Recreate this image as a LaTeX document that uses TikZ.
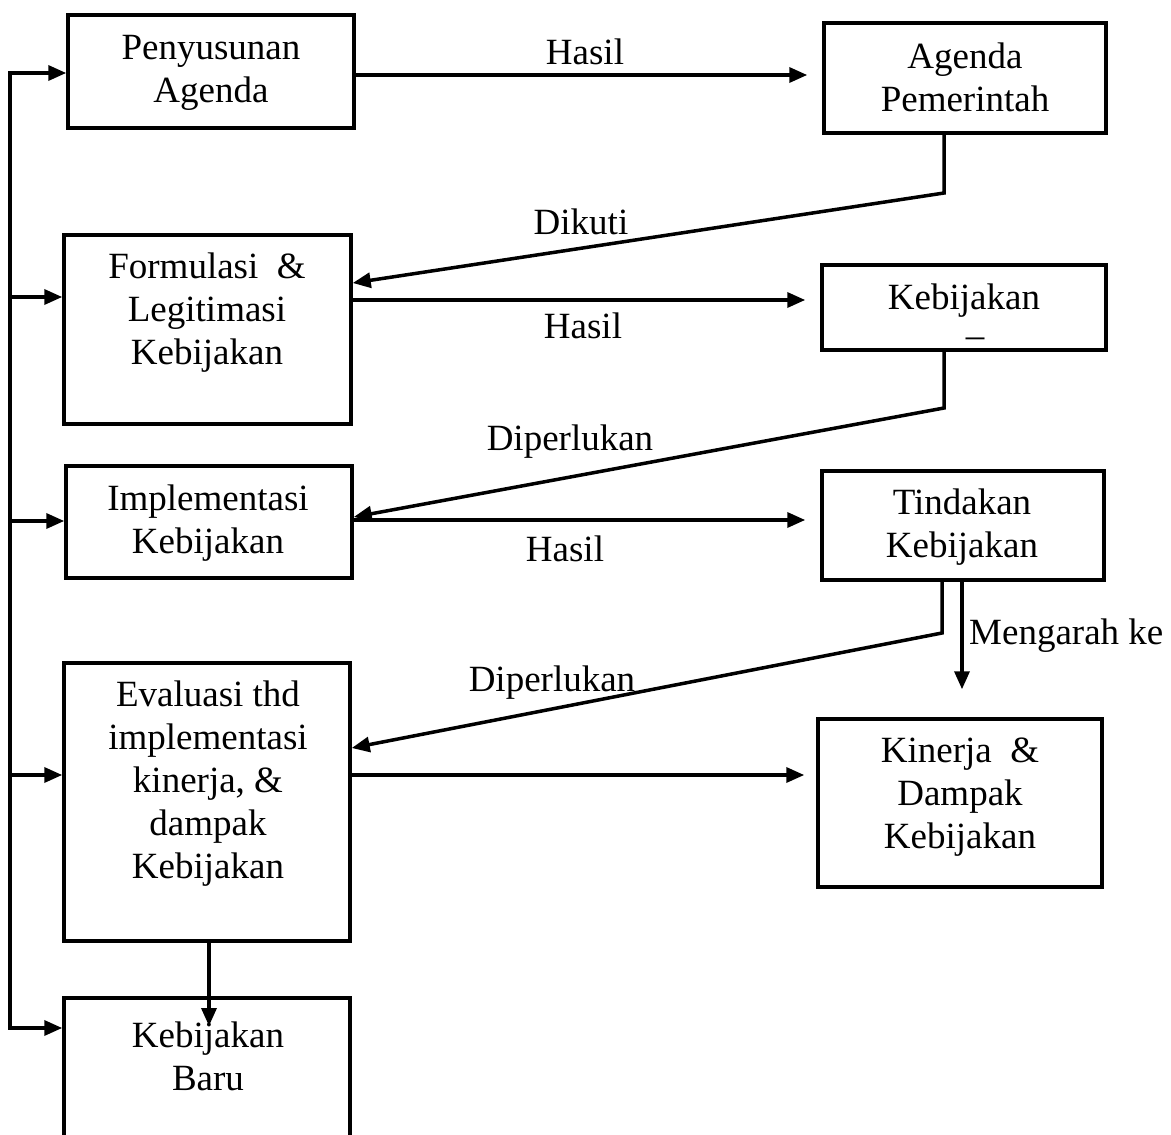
\documentclass[tikz,border=0pt]{standalone}
\usepackage{fontspec}
\setmainfont{Liberation Serif}
\usetikzlibrary{arrows.meta}
\begin{document}
\begin{tikzpicture}[x=1pt,y=-1pt,
  box/.style={draw, line width=3.5pt, inner sep=0pt},
  txt/.style={align=center, font=\fontsize{37}{43}\selectfont, inner sep=0pt},
  lbl/.style={font=\fontsize{37}{43}\selectfont, inner sep=0pt},
  ln/.style={line width=3.5pt},
  arr/.style={line width=3.5pt, -{Triangle[length=18pt,width=15pt]}}]
\useasboundingbox (0,0) rectangle (1171,1135);
% boxes
\node[box, minimum width=286pt, minimum height=113pt] (p) at (211,71.5) {};
\node[box, minimum width=282pt, minimum height=110pt] (ap) at (965,78) {};
\node[box, minimum width=287pt, minimum height=189pt] (f) at (207.5,329.5) {};
\node[box, minimum width=284pt, minimum height=85pt] (k) at (964,307.5) {};
\node[box, minimum width=286pt, minimum height=112pt] (i) at (209,522) {};
\node[box, minimum width=282pt, minimum height=109pt] (t) at (963,525.5) {};
\node[box, minimum width=286pt, minimum height=278pt] (e) at (207,802) {};
\node[box, minimum width=284pt, minimum height=168pt] (kd) at (960,803) {};
\node[box, minimum width=286pt, minimum height=160pt] (b) at (207,1078) {};
% texts
\node[txt] (pt) at (211,73) {Penyusunan\\Agenda};
\node[txt] (apt) at (965,77) {Agenda\\Pemerintah};
\node[txt] (ft) at (207,313) {Formulasi~ \&\\Legitimasi\\Kebijakan};
\node[txt] (kt) at (964,301) {Kebijakan};
\node[txt] (kx) at (975,343) {–};
\node[txt] (it) at (208,523) {Implementasi\\Kebijakan};
\node[txt] (tt) at (962,527) {Tindakan\\Kebijakan};
\node[txt] (et) at (208,784) {Evaluasi thd\\implementasi\\kinerja, \&\\dampak\\Kebijakan};
\node[txt] (kdt) at (960,797) {Kinerja~ \&\\Dampak\\Kebijakan};
\node[txt] (bt) at (208,1056) {Kebijakan\\Baru};
% labels
\node[lbl] (l1) at (585,52) {Hasil};
\node[lbl] (l2) at (581,222) {Dikuti};
\node[lbl] (l3) at (583,326) {Hasil};
\node[lbl] (l4) at (570,442) {Diperlukan};
\node[lbl] (l5) at (565,549) {Hasil};
\node[lbl] (l6) at (552,683) {Diperlukan};
\node[lbl, anchor=west] (l7) at (969,636) {Mengarah ke};
% horizontal connectors
\draw[arr, shorten >=15pt] (p.east |- 0,75) -- (ap.west |- 0,75);
\draw[arr, shorten >=15pt] (f.east |- 0,300) -- (k.west |- 0,300);
\draw[arr, shorten >=15pt] (i.east |- 0,520) -- (t.west |- 0,520);
\draw[arr, shorten >=12pt] (e.east |- 0,775) -- (kd.west |- 0,775);
% feedback connectors
\draw[arr, line join=miter] (ap.south -| 944,0) -- (944,193) -- (f.east |- 0,283);
\draw[arr, line join=miter] (k.south -| 944,0) -- (944,408) -- (i.east |- 0,517);
\draw[arr, line join=miter] (t.south -| 942,0) -- (942,633) -- (e.east |- 0,748);
\draw[arr, shorten >=28pt] (t.south -| 962,0) -- (kd.north -| 962,0);
\draw[arr] (e.south -| 209,0) -- (209,1026);
% left loop
\coordinate (top) at (10,73);
\coordinate (bot) at (10,1028);
\draw[ln, line cap=rect] (top) -- (bot);
\draw[arr] (top) -- (p.west |- top);
\draw[arr] (10,297) -- (f.west |- 0,297);
\draw[arr] (10,521) -- (i.west |- 0,521);
\draw[arr] (10,775) -- (e.west |- 0,775);
\draw[arr] (bot) -- (b.west |- bot);
\end{tikzpicture}
\end{document}
